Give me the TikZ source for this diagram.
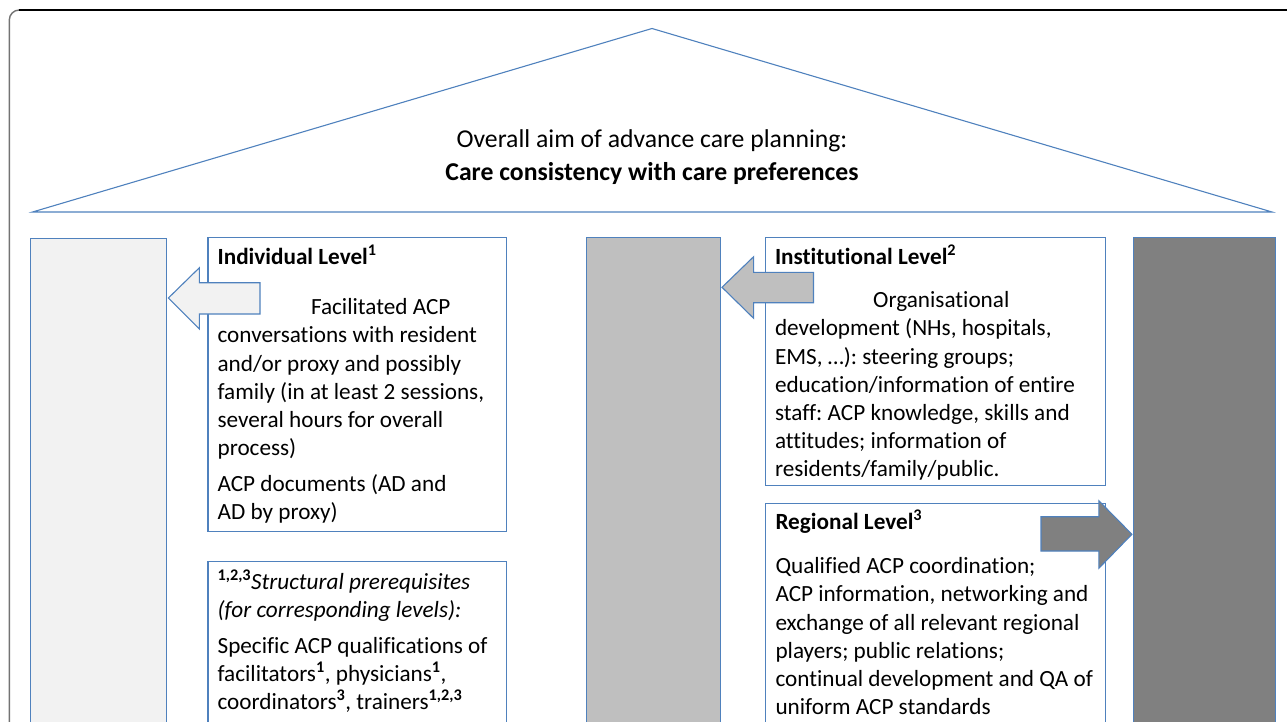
\documentclass[tikz,border=0pt]{standalone}
\usepackage{fontspec}
\setmainfont{Carlito}[Ligatures=NoCommon]
\frenchspacing
\definecolor{bl}{RGB}{79,129,189}
\definecolor{g1}{HTML}{F2F2F2}
\definecolor{g2}{HTML}{BFBFBF}
\definecolor{g3}{HTML}{808080}
\begin{document}
\frenchspacing
\begin{tikzpicture}[x=1pt,y=-1pt,
  pillar/.style={draw=bl,line width=1.1pt,anchor=north west,inner sep=0pt},
  box/.style={draw=bl,line width=1.1pt,fill=white,anchor=north west,inner sep=0pt},
  txt/.style={anchor=north west,inner sep=0pt,align=left,font={\fontsize{23.2}{28.2}\selectfont}},
  blockarrow/.style={draw=bl,line width=1.1pt,line join=miter}]
\useasboundingbox (0,0) rectangle (1287,722);
\clip (0,0) rectangle (1287,722);
% pillars
\node[pillar,fill=g1,minimum width=135.5pt,minimum height=500pt] (p1) at (30,238) {};
\node[pillar,fill=g2,minimum width=134.8pt,minimum height=500pt] (p2) at (585.5,236.7) {};
\node[pillar,fill=g3,minimum width=142pt,minimum height=500pt] (p3) at (1132.5,236.7) {};
% roof
\coordinate (apex) at (652,28.5);
\coordinate (rl) at (32.5,212);
\coordinate (rr) at (1272,212);
\draw[bl,line width=1.1pt,line join=miter] (rl) -- (apex) -- (rr) -- cycle;
\node[align=center,inner sep=0pt,anchor=north,font={\fontsize{25.7}{33}\selectfont}] (title) at (652,124.3)
  {\strut Overall aim of advance care planning:\\ \textbf{Care consistency with care preferences}};
% boxes
\node[box,minimum width=298.6pt,minimum height=294pt] (ind) at (207.4,236.7) {};
\node[box,minimum width=298.6pt,minimum height=200pt] (str) at (207.4,561) {};
\node[box,minimum width=340.3pt,minimum height=248.6pt] (inst) at (764.9,236.7) {};
\node[box,minimum width=340.6pt,minimum height=250pt] (reg) at (764.7,502.7) {};
% texts
\node[txt] (indt) at (217.4,244.5) {\strut\textbf{Individual Level\textsuperscript{1}}\\[22.1pt]
\hspace*{93.4pt}Facilitated ACP\\
conversations with resident\\
and/or proxy and possibly\\
family (in at least 2 sessions,\\
several hours for overall\\
process)\\[7.8pt]
ACP documents (AD and\\
AD by proxy)};
\node[txt] (strt) at (217.4,569.5) {\strut\textbf{\textsuperscript{1,2,3}}\textit{Structural prerequisites}\\
\textit{(for corresponding levels):}\\[7.5pt]
Specific ACP qualifications of\\
facilitators\textsuperscript{\textbf{1}}, physicians\textsuperscript{\textbf{1}},\\
coordinators\textsuperscript{\textbf{3}}, trainers\textsuperscript{\textbf{1,2,3}}};
\node[txt] (instt) at (774.8,244.5) {\strut\textbf{Institutional Level\textsuperscript{2}}\\[15.1pt]
\hspace*{98.2pt}Organisational\\
development (NHs, hospitals,\\
EMS, …): steering groups;\\
education/information of entire\\
staff: ACP knowledge, skills and\\
attitudes; information of\\
residents/family/public.};
\node[txt] (regt) at (775.3,509.5) {\strut\textbf{Regional Level\textsuperscript{3}}\\[16.1pt]
Qualified ACP coordination;\\
ACP information, networking and\\
exchange of all relevant regional\\
players; public relations;\\
continual development and QA of\\
uniform ACP standards};
% block arrows
\draw[blockarrow,fill=g1] (168.4,298) -- (199.4,267.7) -- (199.4,282.7) -- (260,282.7) -- (260,314)
  -- (199.4,314) -- (199.4,329) -- cycle;
\draw[blockarrow,fill=g2] (722,287.3) -- (753.6,256.7) -- (753.6,272.3) -- (813.5,272.3) -- (813.5,302.7)
  -- (753.6,302.7) -- (753.6,318.3) -- cycle;
\draw[blockarrow,fill=g3] (1131.9,534.3) -- (1098.8,500.7) -- (1098.8,516.7) -- (1041,516.7) -- (1041,551)
  -- (1098.8,551) -- (1098.8,568.3) -- cycle;
% outer frame
\draw[black!55,line width=1.4pt] (9.3,760) -- (9.3,20) arc[start angle=180,end angle=90,radius=10pt];
\draw[black,line width=1.4pt] (19.3,10) -- (1300,10);
\end{tikzpicture}
\end{document}
